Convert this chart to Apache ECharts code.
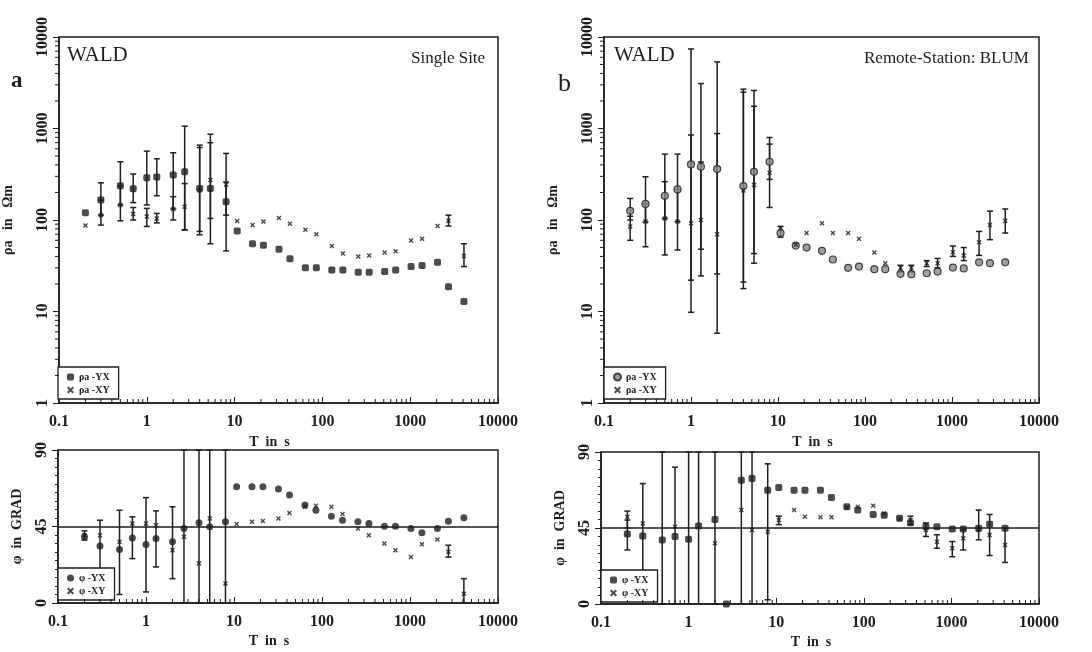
<!DOCTYPE html>
<html lang="en">
<head>
    <meta charset="UTF-8">
    <title>WALD - Single Site vs Remote-Station</title>
    <script src="https://cdn.jsdelivr.net/npm/echarts@6/dist/echarts.min.js"></script>
    <style>
        body, html {
            margin: 0;
            padding: 0;
            background-color: #ffffff;
        }
        #chart {
            width: 1092px;
            height: 652px;
        }
    </style>
</head>
<body>
    <div id="chart"></div>

    <script>
        // periods in s
        const PERIODS = [0.2, 0.3, 0.5, 0.7, 1, 1.3, 2, 2.7, 4, 5.3, 8, 10.7, 16, 21.3, 32, 42.7, 64, 85.3,
                         128, 171, 256, 341, 512, 683, 1024, 1365, 2048, 2731, 4096];

        // a: single site, apparent resistivity
        const RHO_A_YX    = [120, 165, 237, 220, 290, 295, 310, 336, 221, 221, 158, 76, 55, 53, 48, 37.6, 30, 30, 28.5, 28.5, 26.9, 26.9, 27.3, 28.5, 31, 31.8, 34.5, 18.7, 12.9];
        const RHO_A_YX_LO = [null, 113, 146, 155, 146, 184, 132, 78, 69, 55, 46, null, null, null, null, null, null, null, null, null, null, null, null, null, null, null, null, null, null];
        const RHO_A_YX_HI = [null, 255, 433, 318, 566, 467, 543, 1060, 658, 867, 534, null, null, null, null, null, null, null, null, null, null, null, null, null, null, null, null, null, null];
        const RHO_A_XY    = [87, 113, 146, 116, 109, 104, 132, 140, 210, 273, 245, 97.5, 88, 96, 105, 91, 78, 70, 52, 43, 40, 41, 44, 45.5, 59.6, 62.5, 86, 98.4, 40.5];
        const RHO_A_XY_LO = [null, 88, 98, 100, 85, 93, 100, 78, 75, 104, 113, null, null, null, null, null, null, null, null, null, null, null, null, null, null, null, null, 86, 31];
        const RHO_A_XY_HI = [null, 165, 237, 137, 134, 118, 180, 250, 620, 700, 260, null, null, null, null, null, null, null, null, null, null, null, null, null, null, null, null, 113, 55];

        // b: remote reference BLUM, apparent resistivity
        const RHO_B_YX    = [126, 150, 184, 216, 405, 382, 360, null, 235, 336, 433, 72, 52.5, 50, 46, 37, 30, 31, 29, 29, 25.8, 25.6, 26.2, 27.3, 30.2, 29.6, 34.5, 33.7, 34.5];
        const RHO_B_YX_LO = [100, 95, 104, 96, 9.8, 24.5, 5.8, null, 17.8, 33.7, 137, 65, null, null, null, null, null, null, null, null, null, null, null, null, null, null, null, null, null];
        const RHO_B_YX_HI = [172, 297, 525, 525, 7400, 3100, 5340, null, 2690, 2600, 798, 85, null, null, null, null, null, null, null, null, null, null, null, null, null, null, null, null, null];
        const RHO_B_XY    = [85, 96, 104, 96, 92, 100, 70, null, 210, 241, 328, 82, 54, 72, 92, 72, 72, 62.5, 44, 33.7, 30, 30, 33.7, 33.7, 44.4, 41, 57, 88, 98];
        const RHO_B_XY_LO = [60, 51, 41.5, 47, 22, 48, 25.7, null, 21, 43, 278, null, null, null, null, null, null, null, null, null, 27, 27, 31, 30, 40, 36, 41, 61, 72];
        const RHO_B_XY_HI = [110, 150, 262, 216, 850, 430, 880, null, 2500, 1750, 675, null, null, null, null, null, null, null, null, null, 32, 32, 36, 38, 52, 50, 75, 125, 132];

        // a: single site, phase
        const PHI_A_YX    = [38.9, 33.6, 31.4, 38.3, 34.4, 37.9, 36, 43.8, 47.2, 44.8, 47.8, 68.4, 68.4, 68.4, 67, 63.5, 57.6, 54.6, 51.1, 48.7, 47.8, 46.8, 45.2, 45.2, 43.8, 41.3, 43.8, 48.1, 50.1];
        const PHI_A_YX_LO = [37, 18.3, 5, 26.1, 6.5, 21.2, 14.3, 0, 0, 0, 0, null, null, null, null, null, null, null, null, null, null, null, null, null, null, null, null, null, null];
        const PHI_A_YX_HI = [42.4, 48.7, 54.6, 50.7, 62, 54.2, 56.6, 90, 90, 90, 90, null, null, null, null, null, null, null, null, null, null, null, null, null, null, null, null, null, null];
        const PHI_A_XY    = [40, 39.9, 36, 46.8, 46.8, 45.8, 31, 38.9, 23.2, 49.7, 11.4, 46.4, 47.8, 48.3, 49.7, 53, 56.6, 57.2, 56.6, 52.3, 43.8, 39.9, 35, 31, 27.1, 34.6, 37.3, 30.1, 5.5];
        const PHI_A_XY_LO = [null, null, null, null, null, null, null, null, null, null, null, null, null, null, null, null, null, null, null, null, null, null, null, null, null, null, null, 27, 0];
        const PHI_A_XY_HI = [null, null, null, null, null, null, null, null, null, null, null, null, null, null, null, null, null, null, null, null, null, null, null, null, null, null, null, 34, 14.3];

        // b: remote reference BLUM, phase
        const PHI_B_YX    = [41.5, 40.3, 37.9, 39.9, 38.3, 46.2, 50.1, 0, 73.3, 74.3, 67.4, 69, 67.4, 67.4, 67.4, 63.1, 57.6, 55.6, 53, 52.5, 50.7, 48.1, 45.8, 45.8, 44.4, 44.4, 44.8, 47.2, 44.8];
        const PHI_B_YX_LO = [32, 18.3, 0, 0, 0, 0, 0, null, 0, 0, 2.5, null, null, null, null, null, null, null, null, null, null, null, null, null, null, null, null, null, null];
        const PHI_B_YX_HI = [49.7, 71.3, 90, 81, 90, 90, 90, null, 90, 90, 83, null, null, null, null, null, null, null, null, null, null, null, null, null, null, null, null, null, null];
        const PHI_B_XY    = [51.7, 47.7, null, 45.8, null, null, 36, null, 55.6, 43.8, 42.8, 49.7, 55.6, 51.7, 51.3, 51.3, 57.2, 57.6, 58.2, 53.6, 50.3, 49.7, 43.8, 36.9, 33, 38.9, 43.8, 40.9, 35];
        const PHI_B_XY_LO = [45, null, null, null, null, null, null, null, null, null, null, 47, null, null, null, null, null, null, null, null, null, 47, 40, 33, 28, 32, 38, 28.7, 24.6];
        const PHI_B_XY_HI = [55, null, null, null, null, null, null, null, null, null, null, 52, null, null, null, null, null, null, null, null, null, 52, 48, 41, 37, 44, 55.6, 53, 44.8];

        // axis ticks
        const X_TICKS = [0.1, 1, 10, 100, 1000, 10000];
        const RHO_TICKS = [1, 10, 100, 1000, 10000];
        const PHI_TICKS = [0, 45, 90];

        const INK = '#1e1e1e';
        const FONT = 'Liberation Serif';

        function logMinor(from, to) {
            const out = [];
            for (let d = from; d < to; d *= 10) {
                for (let k = 2; k <= 9; k++) out.push(+(d * k).toPrecision(3));
            }
            return out;
        }
        const X_MINOR = logMinor(0.1, 10000);
        const RHO_MINOR = logMinor(1, 10000);

        const X_SYMBOL = 'path://M0,2L2,0L5,3L8,0L10,2L7,5L10,8L8,10L5,7L2,10L0,8L3,5Z';

        function pts(vals) {
            const out = [];
            PERIODS.forEach((t, i) => { if (vals[i] != null) out.push([t, vals[i]]); });
            return out;
        }

        function scatter(name, gi, vals, symbol, size, style) {
            return {
                name: name,
                type: 'scatter',
                xAxisIndex: gi,
                yAxisIndex: gi,
                symbol: symbol,
                symbolSize: size,
                itemStyle: style,
                z: 4,
                data: pts(vals)
            };
        }

        function errorBars(gi, lo, hi, color) {
            const data = [];
            PERIODS.forEach((t, i) => {
                if (lo[i] != null && hi[i] != null) data.push([t, lo[i], hi[i]]);
            });
            return {
                type: 'custom',
                xAxisIndex: gi,
                yAxisIndex: gi,
                silent: true,
                z: 3,
                encode: { x: 0, y: [1, 2] },
                renderItem: function (params, api) {
                    const p1 = api.coord([api.value(0), api.value(1)]);
                    const p2 = api.coord([api.value(0), api.value(2)]);
                    const w = 3;
                    const st = { stroke: color, lineWidth: 1.5 };
                    return {
                        type: 'group',
                        children: [
                            { type: 'line', shape: { x1: p1[0], y1: p1[1], x2: p2[0], y2: p2[1] }, style: st },
                            { type: 'line', shape: { x1: p1[0] - w, y1: p1[1], x2: p1[0] + w, y2: p1[1] }, style: st },
                            { type: 'line', shape: { x1: p2[0] - w, y1: p2[1], x2: p2[0] + w, y2: p2[1] }, style: st }
                        ]
                    };
                },
                data: data
            };
        }

        // log minor ticks: inward on the T axis, outward on the rho axis
        function minorTicks(gi, yMin, yMinor) {
            return {
                type: 'custom',
                xAxisIndex: gi,
                yAxisIndex: gi,
                silent: true,
                z: 5,
                renderItem: function (params, api) {
                    const base = api.coord([0.1, yMin]);
                    const st = { stroke: INK, lineWidth: 1 };
                    const children = [];
                    X_MINOR.forEach(v => {
                        const p = api.coord([v, yMin]);
                        children.push({ type: 'line', shape: { x1: p[0], y1: base[1], x2: p[0], y2: base[1] - 4 }, style: st });
                    });
                    yMinor.forEach(v => {
                        const p = api.coord([0.1, v]);
                        children.push({ type: 'line', shape: { x1: base[0] - 4, y1: p[1], x2: base[0], y2: p[1] }, style: st });
                    });
                    return { type: 'group', children: children };
                },
                data: [[0.1, yMin]]
            };
        }

        const grids = [
            { left: 58, top: 37, width: 440, height: 366 },
            { left: 604, top: 37, width: 435, height: 366 },
            { left: 58, top: 450, width: 440, height: 153 },
            { left: 601, top: 452, width: 438, height: 152 }
        ].map(g => Object.assign(g, { show: true, borderColor: INK, borderWidth: 1.5, backgroundColor: 'transparent' }));

        const xAxes = grids.map((g, i) => ({
            type: 'log',
            logBase: 10,
            gridIndex: i,
            min: X_TICKS[0],
            max: X_TICKS[X_TICKS.length - 1],
            name: 'T  in  s',
            nameLocation: 'middle',
            nameGap: 31,
            nameTextStyle: { fontFamily: FONT, fontWeight: 'bold', fontSize: 14, color: INK, padding: [0, 18, 0, 0] },
            axisLine: { show: true, lineStyle: { color: INK, width: 1.5 } },
            axisTick: { show: true, inside: true, length: 6, lineStyle: { color: INK } },
            axisLabel: {
                fontFamily: FONT, fontWeight: 'bold', fontSize: 16, color: INK, margin: 11,
                showMinLabel: true, showMaxLabel: true,
                formatter: v => String(+(+v).toPrecision(3))
            },
            splitLine: { show: false }
        }));

        const rhoAxis = i => ({
            type: 'log',
            logBase: 10,
            gridIndex: i,
            min: RHO_TICKS[0],
            max: RHO_TICKS[RHO_TICKS.length - 1],
            name: 'ρa   in   Ωm',
            nameLocation: 'middle',
            nameRotate: 90,
            nameGap: 34,
            nameTextStyle: { fontFamily: FONT, fontWeight: 'bold', fontSize: 14, color: INK, padding: [0, 0, 10, 0] },
            axisLine: { show: true, lineStyle: { color: INK, width: 1.5 } },
            axisTick: { show: true, inside: false, length: 6, lineStyle: { color: INK } },
            axisLabel: {
                rotate: 90, fontFamily: FONT, fontWeight: 'bold', fontSize: 16, color: INK, margin: 8,
                showMinLabel: true, showMaxLabel: true,
                formatter: v => String(+(+v).toPrecision(3))
            },
            splitLine: { show: false }
        });

        const phiAxis = i => ({
            type: 'value',
            gridIndex: i,
            min: PHI_TICKS[0],
            max: PHI_TICKS[PHI_TICKS.length - 1],
            interval: 45,
            name: 'φ  in  GRAD',
            nameLocation: 'middle',
            nameRotate: 90,
            nameGap: 34,
            nameTextStyle: { fontFamily: FONT, fontWeight: 'bold', fontSize: 14, color: INK },
            axisLine: { show: true, lineStyle: { color: INK, width: 1.5 } },
            axisTick: { show: true, inside: false, length: 6, lineStyle: { color: INK } },
            minorTick: { show: true, splitNumber: 9, length: 3, lineStyle: { color: INK } },
            axisLabel: { rotate: 90, fontFamily: FONT, fontWeight: 'bold', fontSize: 16, color: INK, margin: 8 },
            splitLine: { show: false },
            minorSplitLine: { show: false }
        });

        const line45 = {
            silent: true,
            symbol: 'none',
            label: { show: false },
            lineStyle: { color: INK, type: 'solid', width: 1.5 },
            data: [{ yAxis: 45 }]
        };

        const darkDot = { color: INK };
        const greyDot = { color: '#8a8a8a', borderColor: INK, borderWidth: 1.2 };
        const cross = { color: INK };

        const phiAYX = scatter('φ -YX|a', 2, PHI_A_YX, 'circle', 7, darkDot);
        phiAYX.markLine = line45;
        const phiBYX = scatter('φ -YX|b', 3, PHI_B_YX, 'roundRect', 7, darkDot);
        phiBYX.markLine = line45;

        const series = [
            errorBars(0, RHO_A_YX_LO, RHO_A_YX_HI, INK),
            errorBars(0, RHO_A_XY_LO, RHO_A_XY_HI, INK),
            scatter('ρa -YX|a', 0, RHO_A_YX, 'roundRect', 7, darkDot),
            scatter('ρa -XY|a', 0, RHO_A_XY, X_SYMBOL, 5, cross),
            minorTicks(0, 1, RHO_MINOR),

            errorBars(1, RHO_B_YX_LO, RHO_B_YX_HI, INK),
            errorBars(1, RHO_B_XY_LO, RHO_B_XY_HI, INK),
            scatter('ρa -YX|b', 1, RHO_B_YX, 'circle', 7, greyDot),
            scatter('ρa -XY|b', 1, RHO_B_XY, X_SYMBOL, 5, cross),
            minorTicks(1, 1, RHO_MINOR),

            errorBars(2, PHI_A_YX_LO, PHI_A_YX_HI, INK),
            errorBars(2, PHI_A_XY_LO, PHI_A_XY_HI, INK),
            phiAYX,
            scatter('φ -XY|a', 2, PHI_A_XY, X_SYMBOL, 5, cross),
            minorTicks(2, 0, []),

            errorBars(3, PHI_B_YX_LO, PHI_B_YX_HI, INK),
            errorBars(3, PHI_B_XY_LO, PHI_B_XY_HI, INK),
            phiBYX,
            scatter('φ -XY|b', 3, PHI_B_XY, X_SYMBOL, 5, cross),
            minorTicks(3, 0, [])
        ];

        const legendBox = (left, top, names) => ({
            left: left,
            top: top,
            orient: 'vertical',
            data: names,
            padding: [5, 9, 4, 9],
            itemGap: 3,
            itemWidth: 7,
            itemHeight: 7,
            backgroundColor: '#ffffff',
            borderColor: INK,
            borderWidth: 1.3,
            borderRadius: 0,
            selectedMode: false,
            textStyle: { fontFamily: FONT, fontWeight: 'bold', fontSize: 10, color: INK },
            formatter: name => name.split('|')[0]
        });

        const txt = (left, top, text, size, weight) => ({
            type: 'text',
            left: left,
            top: top,
            style: { text: text, fontFamily: FONT, fontSize: size, fontWeight: weight || 'normal', fill: INK }
        });

        const option = {
            animation: false,
            backgroundColor: '#ffffff',
            grid: grids,
            xAxis: xAxes,
            yAxis: [rhoAxis(0), rhoAxis(1), phiAxis(2), phiAxis(3)],
            legend: [
                legendBox(58, 367, ['ρa -YX|a', 'ρa -XY|a']),
                legendBox(604, 367, ['ρa -YX|b', 'ρa -XY|b']),
                legendBox(58, 568, ['φ -YX|a', 'φ -XY|a']),
                legendBox(601, 570, ['φ -YX|b', 'φ -XY|b'])
            ],
            graphic: [
                txt(67, 45, 'WALD', 21),
                txt(411, 50, 'Single Site', 17),
                txt(11, 70, 'a', 23, 'bold'),
                txt(614, 45, 'WALD', 21),
                txt(864, 50, 'Remote-Station: BLUM', 17),
                txt(558, 71, 'b', 26)
            ],
            series: series
        };

        const chart = echarts.init(document.getElementById('chart'));
        chart.setOption(option);
    </script>
</body>
</html>
